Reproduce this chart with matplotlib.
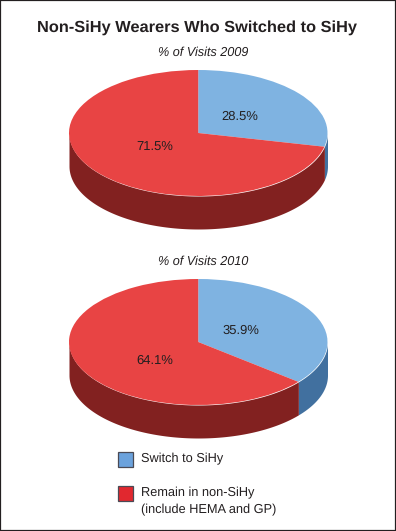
'''
Two 3D-looking pies of visits, non-SiHy wearers who switched to SiHy
'''

import numpy as np
import matplotlib
matplotlib.use("Agg")
import matplotlib.pyplot as plt
from matplotlib.patches import Rectangle

plt.rcParams["font.family"] = ["Liberation Sans", "DejaVu Sans"]
plt.rcParams["text.hinting"] = "no_hinting"

# chart data
title = "Non-SiHy Wearers Who Switched to SiHy"
subtitles = ["% of Visits 2009", "% of Visits 2010"]
switch_vals = [28.5, 35.9]
remain_vals = [71.5, 64.1]
legend_labels = ["Switch to SiHy", "Remain in non-SiHy\n(include HEMA and GP)"]

W, H = 396, 531
BLUE, RED = "#7fb3e1", "#e84444"
DARK_BLUE, DARK_RED = "#41709f", "#822120"
TEXT = "#231f20"

fig = plt.figure(figsize=(W / 100, H / 100), dpi=100, facecolor="white")


def px_text(x, y, s, **kw):
    fig.text(x / W, 1 - y / H, s, color=TEXT, **kw)


def wall(ax, start, end, depth, color):
    # side of the disc, angles in degrees clockwise from the top
    t = np.radians(np.linspace(start, end, 200))
    x = np.sin(t)
    y = np.cos(t)
    ax.fill_between(x, y, y - depth, color=color, lw=0, zorder=1)


def draw_pie(top, switch, remain):
    left, width = 69, 258.5
    ry, depth = 63, 33
    height = 2 * ry + depth
    ax = fig.add_axes([left / W, 1 - (top + height) / H, width / W, height / H])
    d = depth / ry

    # only the part of the side facing the viewer shows
    split = switch / (switch + remain) * 360
    wall(ax, 90, split, d, DARK_BLUE)
    wall(ax, split, 270, d, DARK_RED)

    ax.pie([switch, remain], colors=[BLUE, RED], startangle=90, counterclock=False,
           radius=1, wedgeprops={"linewidth": 0, "zorder": 2})
    ax.set_aspect("auto")
    ax.set_xlim(-1, 1)
    ax.set_ylim(-1 - d, 1)
    ax.axis("off")


px_text(197, 28, title, fontsize=11.75, fontweight="bold", ha="center", va="center")

px_text(203, 53, subtitles[0], fontsize=9.1, style="italic", ha="center", va="center")
draw_pie(70, switch_vals[0], remain_vals[0])
px_text(240, 117, f"{switch_vals[0]}%", fontsize=9.4, ha="center", va="center")
px_text(155, 147, f"{remain_vals[0]}%", fontsize=9.4, ha="center", va="center")

px_text(203, 262, subtitles[1], fontsize=9.1, style="italic", ha="center", va="center")
draw_pie(279, switch_vals[1], remain_vals[1])
px_text(241, 331, f"{switch_vals[1]}%", fontsize=9.4, ha="center", va="center")
px_text(155, 361, f"{remain_vals[1]}%", fontsize=9.4, ha="center", va="center")

# legend
for y, color, label in zip([452, 486], ["#6ba2dc", "#e1282f"], legend_labels):
    fig.add_artist(Rectangle((118 / W, 1 - (y + 15) / H), 15 / W, 15 / H, facecolor=color,
                             edgecolor="#4a4a55", lw=0.9, transform=fig.transFigure))
    px_text(141, y + 1, label, fontsize=9.2, ha="left", va="top", linespacing=1.5)

# frame around the figure
fig.add_artist(Rectangle((0, 0), 1, 1, fill=False, edgecolor="#231f20", lw=1.6,
                         transform=fig.transFigure))

fig.savefig("out.png", dpi=100)
